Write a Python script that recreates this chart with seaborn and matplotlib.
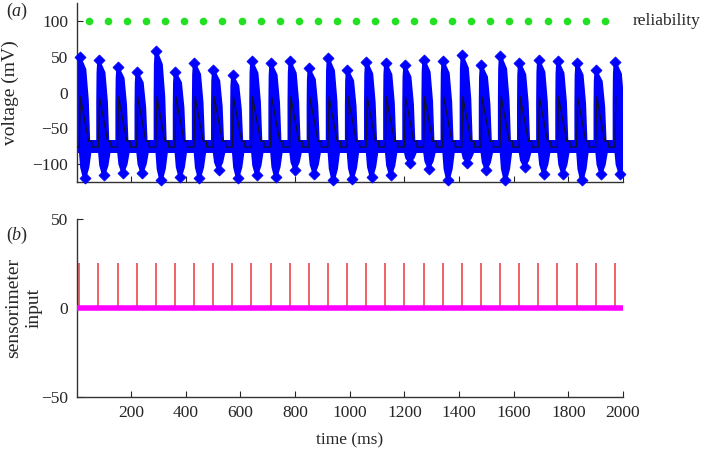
import matplotlib
matplotlib.use("Agg")
import matplotlib.pyplot as plt
import numpy as np
import pandas as pd
import seaborn as sns

# spike times (ms) and the extremes of the blue trial cloud around each spike
spike_times = [10, 80, 150, 220, 290, 360, 430, 500, 570, 640, 710, 780, 850, 920, 990,
               1060, 1130, 1200, 1270, 1340, 1410, 1480, 1550, 1620, 1690, 1760, 1830, 1900, 1970]
spike_tops = [50, 45, 36, 29, 58, 29, 42, 32, 24, 44, 41, 44, 34, 48, 32,
              43, 42, 38, 46, 44, 52, 38, 51, 42, 46, 44, 41, 31, 43]
spike_bottoms = [-119, -115, -112, -112, -122, -118, -119, -108, -119, -115, -118, -108, -113, -122, -120,
                 -118, -115, -99, -106, -122, -99, -108, -122, -104, -113, -113, -122, -113, -113]
pulse_heights = [25] * 29

reliability_times = [44, 114, 184, 254, 324, 394, 464, 534, 604, 674, 744, 814, 884, 954,
                     1024, 1094, 1164, 1234, 1304, 1374, 1444, 1514, 1584, 1654, 1724, 1794, 1864, 1934]
reliability = [100] * 28

# mean voltage shape after each spike (offset ms, mV)
mean_offsets = [0, 4, 34, 46, 46.01, 69.9]
mean_values = [-76, -6, -68, -68, -76, -76]
resting_band = (-85, -66)

BLUE = "#0000ff"

plt.rcParams["mathtext.fontset"] = "custom"
plt.rcParams["mathtext.it"] = "Liberation Serif:italic"
plt.rcParams["mathtext.rm"] = "Liberation Serif"
sns.set_style("ticks")
plt.rcParams["font.family"] = ["Liberation Serif", "DejaVu Serif"]
plt.rcParams["font.size"] = 12
plt.rcParams["axes.linewidth"] = 1.0

fig = plt.figure(figsize=(7.06, 4.53), dpi=100)
ax1 = fig.add_axes([0.1084, 0.598, 0.774, 0.395])
ax2 = fig.add_axes([0.1084, 0.1236, 0.774, 0.393])

# ---- (a) voltage traces ----
ax1.fill_between([0, 2000], resting_band[0], resting_band[1], color=BLUE, lw=0, zorder=1)
up_left, up_right, up_frac = [-4, -4, -3, -1], [36, 31, 22, 7], [0, 0.5, 0.88, 1.0]
lo_left, lo_right, lo_frac = [3, 7, 14], [40, 33, 25], [0, 0.65, 1.0]
for t, top, bot in zip(spike_times, spike_tops, spike_bottoms):
    base, peak = resting_band[1], top - 4
    ys = [base + f * (peak - base) for f in up_frac]
    xs = [t + o for o in up_left] + [t + o for o in up_right[::-1]]
    ax1.fill(xs, ys + ys[::-1], color=BLUE, lw=1.5, zorder=2)
    base, low = resting_band[0], bot + 4
    ys = [base + f * (low - base) for f in lo_frac]
    xs = [t + o for o in lo_left] + [t + o for o in lo_right[::-1]]
    ax1.fill(xs, ys + ys[::-1], color=BLUE, lw=1.5, zorder=2)

tips = pd.DataFrame({
    "t": [t + 1 for t in spike_times] + [t + 20 for t in spike_times],
    "v": spike_tops + spike_bottoms,
})
sns.scatterplot(data=tips, x="t", y="v", marker="D", s=32, color=BLUE,
                edgecolor=BLUE, linewidth=0.5, ax=ax1, zorder=3, clip_on=False)

trace_t, trace_v = [0], [-76]
for t in spike_times:
    for o, v in zip(mean_offsets, mean_values):
        trace_t.append(t + o)
        trace_v.append(v)
trace = pd.DataFrame({"t": trace_t, "v": trace_v})
trace = trace[trace["t"] <= 2000]
sns.lineplot(data=trace, x="t", y="v", sort=False, estimator=None,
             color="#101030", lw=0.9, ax=ax1, zorder=4)

sns.scatterplot(x=reliability_times, y=reliability, color="#22e022", s=30,
                linewidth=0, ax=ax1, zorder=5)
ax1.text(2035, 100, "reliability", va="center", ha="left", fontsize=12.5)

ax1.set_xlim(0, 2000)
ax1.set_ylim(-125, 125)
ax1.set_yticks([-100, -50, 0, 50, 100])
ax1.set_xticks(range(200, 2001, 200))
ax1.set_xticklabels([])
ax1.set_xlabel("")
ax1.set_ylabel("voltage (mV)", fontsize=14)
ax1.yaxis.set_label_coords(-0.105, 0.5)

# ---- (b) sensorimeter input ----
ax2.vlines(spike_times, 0, pulse_heights, color="#e8383d", lw=1.1, zorder=2)
sns.lineplot(x=[0, 2000], y=[0, 0], color="#ff00ff", lw=4, ax=ax2, zorder=3)
ax2.set_xlim(0, 2000)
ax2.set_ylim(-50, 50)
ax2.set_yticks([-50, 0, 50])
ax2.set_xticks(range(200, 2001, 200))
ax2.set_xlabel("time (ms)", labelpad=8, fontsize=12.5)
ax2.set_ylabel("sensorimeter\ninput", linespacing=1.3, fontsize=14)
ax2.yaxis.set_label_coords(-0.062, 0.5)

for ax in (ax1, ax2):
    sns.despine(ax=ax)
    ax.tick_params(direction="in", length=4, width=0.8, pad=6, labelsize=12.5)
    for s in ("left", "bottom"):
        ax.spines[s].set_color("#333333")

fig.text(0.008, 0.965, r"($\it{a}$)", fontsize=13)
fig.text(0.008, 0.47, r"($\it{b}$)", fontsize=13)

fig.savefig("out.png", dpi=100)
